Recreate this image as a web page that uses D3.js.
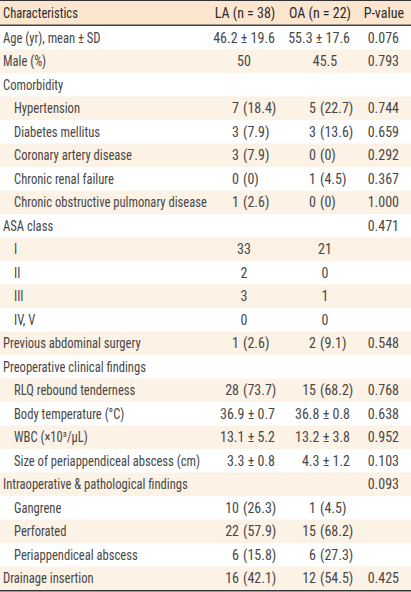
<!DOCTYPE html>
<html><head><meta charset="utf-8">
<script src="https://cdn.jsdelivr.net/npm/d3@7"></script>
<style>
html,body{margin:0;padding:0;background:#fff;}
svg{display:block;}
text{font-family:"Liberation Sans Narrow","Arial Narrow","Roboto Condensed","Liberation Sans",Arial,sans-serif;font-size:14px;fill:#474747;}
</style></head>
<body>
<script>
const headers = ["Characteristics", "LA (n = 38)", "OA (n = 22)", "P-value"];
const labels = ["Age (yr), mean ± SD","Male (%)","Comorbidity","Hypertension","Diabetes mellitus","Coronary artery disease","Chronic renal failure","Chronic obstructive pulmonary disease","ASA class","I","II","III","IV, V","Previous abdominal surgery","Preoperative clinical findings","RLQ rebound tenderness","Body temperature (°C)","WBC (×10³/μL)","Size of periappendiceal abscess (cm)","Intraoperative & pathological findings","Gangrene","Perforated","Periappendiceal abscess","Drainage insertion"];
const indented = [0,0,0,1,1,1,1,1,0,1,1,1,1,0,0,1,1,1,1,0,1,1,1,0];
const laValues = ["46.2 ± 19.6","50","","7 (18.4)","3 (7.9)","3 (7.9)","0 (0)","1 (2.6)","","33","2","3","0","1 (2.6)","","28 (73.7)","36.9 ± 0.7","13.1 ± 5.2","3.3 ± 0.8","","10 (26.3)","22 (57.9)","6 (15.8)","16 (42.1)"];
const oaValues = ["55.3 ± 17.6","45.5","","5 (22.7)","3 (13.6)","0 (0)","1 (4.5)","0 (0)","","21","0","1","0","2 (9.1)","","15 (68.2)","36.8 ± 0.8","13.2 ± 3.8","4.3 ± 1.2","","1 (4.5)","15 (68.2)","6 (27.3)","12 (54.5)"];
const pValues = ["0.076","0.793","","0.744","0.659","0.292","0.367","1.000","0.471","","","","","0.548","","0.768","0.638","0.952","0.103","0.093","","","","0.425"];

const W = 411, H = 592;
const headerH = 26, bottom = 590;
const sx = 0.9; // horizontal compression of label text
const svg = d3.select("body").append("svg").attr("width", W).attr("height", H);

const y = d3.scaleBand().domain(d3.range(labels.length)).range([headerH, bottom]).padding(0);

const cols = {
  la: {right: 275, center: 244, anchor: 239},
  oa: {right: 350, center: 325, anchor: 316}
};

svg.append("rect").attr("x",0).attr("y",0).attr("width",W).attr("height",headerH).attr("fill","#fde6cf");
svg.selectAll("rect.row").data(labels).enter().append("rect").attr("class","row")
  .attr("x",0).attr("y",(d,i)=>y(i)).attr("width",W).attr("height",y.bandwidth())
  .attr("fill",(d,i)=> i%2===1 ? "#fdf2e6" : "#ffffff");

svg.append("line").attr("x1",0).attr("x2",W).attr("y1",0.5).attr("y2",0.5).attr("stroke","#333").attr("stroke-width",1);
svg.append("line").attr("x1",0).attr("x2",W).attr("y1",headerH-0.75).attr("y2",headerH-0.75).attr("stroke","#444").attr("stroke-width",1.5);
svg.append("line").attr("x1",0).attr("x2",W).attr("y1",bottom+0.75).attr("y2",bottom+0.75).attr("stroke","#333").attr("stroke-width",1.5);

const base = 5;
const hy = headerH/2 + base - 0.5;
svg.append("text").attr("transform",`translate(3,${hy}) scale(${sx},1)`).text(headers[0]).style("fill","#2a2a2a");
svg.append("text").attr("x",cols.la.center+1).attr("y",hy).attr("text-anchor","middle").text(headers[1]).style("fill","#2a2a2a");
svg.append("text").attr("x",320).attr("y",hy).attr("text-anchor","middle").text(headers[2]).style("fill","#2a2a2a");
svg.append("text").attr("x",404).attr("y",hy).attr("text-anchor","end").text(headers[3]).style("fill","#2a2a2a");

const cy = i => y(i) + y.bandwidth()/2 + base;

svg.selectAll("text.lab").data(labels).enter().append("text").attr("class","lab")
  .attr("transform",(d,i)=>`translate(${indented[i] ? 14 : 3},${cy(i)}) scale(${sx},1)`).text(d=>d);

function drawCol(values, c, cls){
  values.forEach((v,i)=>{
    if(!v) return;
    const m = v.match(/^(\d+) (\(.*\))$/);
    if(m){
      svg.append("text").attr("class",cls).attr("x",c.anchor).attr("y",cy(i)).attr("text-anchor","end").text(m[1]);
      svg.append("text").attr("class",cls).attr("x",c.anchor+4).attr("y",cy(i)).text(m[2]);
    } else if(v.includes("±")){
      svg.append("text").attr("class",cls).attr("x",c.right).attr("y",cy(i)).attr("text-anchor","end").text(v);
    } else {
      svg.append("text").attr("class",cls).attr("x",c.center).attr("y",cy(i)).attr("text-anchor","middle").text(v);
    }
  });
}
drawCol(laValues, cols.la, "la");
drawCol(oaValues, cols.oa, "oa");
pValues.forEach((v,i)=>{
  if(!v) return;
  svg.append("text").attr("x",399).attr("y",cy(i)).attr("text-anchor","end").text(v);
});
</script>
</body></html>
